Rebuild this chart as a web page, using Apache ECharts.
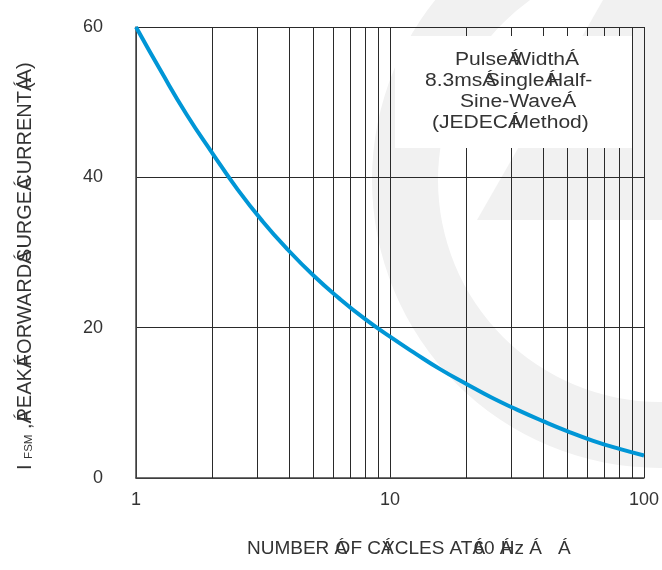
<!DOCTYPE html>
<html><head><meta charset="utf-8">
<script src="https://cdn.jsdelivr.net/npm/echarts@6/dist/echarts.min.js"></script>
<style>html,body{margin:0;padding:0;background:#fff}#c{width:662px;height:570px}</style>
</head><body><div id="c"></div>
<script>
// Data
const cycles  = [1, 1.26, 1.58, 2, 2.51, 3.16, 3.98, 5.01, 6.31, 7.94, 10, 12.6, 15.8, 20, 25.1, 31.6, 39.8, 50.1, 63.1, 79.4, 100];
const current = [60, 54.0, 48.4, 43.2, 38.4, 34.1, 30.3, 26.9, 23.9, 21.2, 18.8, 16.55, 14.45, 12.5, 10.7, 9.1, 7.6, 6.2, 4.95, 3.9, 3.0];
const minorGridCycles = [2, 3, 4, 5, 6, 7, 8, 9, 20, 30, 40, 50, 60, 70, 80, 90];
const xRange = [1, 100];
const yRange = [0, 60];
const yStep = 20;
const xTitle = 'NUMBER {a|Á}OF C{a|Á}YCLES AT{a|Á}60 {a|Á}Hz Á   Á';
const yTitle = 'I {sub|FSM} ,{a|Á}PEAK{a|Á}FORWARD{a|Á}SURGE{a|Á}CURRENT{a|Á}(A)';
const noteLines = ['Pulse{a|Á}Width{a|Á}', '8.3ms{a|Á}Single{a|Á}Half-', 'Sine-Wave{a|Á}', '(JEDEC{a|Á}Method)'];

const FONT = '"Liberation Sans", Arial, Helvetica, sans-serif';
const GRID = '#2a2a2a';
const WM = '#f1f1f1';
const TXT = '#333';

// left edges / vertical centres of the four annotation lines
const noteX = [455, 425, 460, 432];
const noteY = [60, 81, 102, 123];

const noteTexts = noteLines.map((t, i) => ({
  type: 'text', silent: true, z: 11, x: noteX[i], y: noteY[i], scaleX: 1.17,
  style: {text: t, fill: TXT, fontSize: 18, fontFamily: FONT, align: 'left', verticalAlign: 'middle',
    rich: {a: {width: 3, fontSize: 18, fontFamily: FONT, fill: TXT}}}
}));

const chart = echarts.init(document.getElementById('c'), null, {renderer: 'canvas'});
chart.setOption({
  animation: false,
  backgroundColor: '#fff',
  grid: {left: 136, right: 18, top: 27, bottom: 92, containLabel: false},
  xAxis: {
    type: 'log', logBase: 10, min: xRange[0], max: xRange[1],
    axisLine: {show: true, onZero: false, lineStyle: {color: '#444', width: 1.5}},
    axisTick: {show: false},
    axisLabel: {color: TXT, fontSize: 18, fontFamily: FONT, margin: 13},
    splitLine: {show: true, lineStyle: {color: GRID, width: 1}}
  },
  yAxis: {
    type: 'value', min: yRange[0], max: yRange[1], interval: yStep,
    axisLine: {show: true, onZero: false, lineStyle: {color: '#444', width: 1.5}},
    axisTick: {show: false},
    axisLabel: {color: TXT, fontSize: 18, fontFamily: FONT, margin: 33},
    splitLine: {show: true, lineStyle: {color: GRID, width: 1}}
  },
  series: [
    {
      type: 'line', data: [], z: 1, silent: true,
      markLine: {
        silent: true, symbol: ['none', 'none'], label: {show: false},
        lineStyle: {color: GRID, width: 1, type: 'solid'},
        emphasis: {disabled: true},
        data: minorGridCycles.map(v => ({xAxis: v}))
      }
    },
    {
      type: 'line', z: 5, smooth: true, showSymbol: false, silent: true,
      lineStyle: {color: '#0096d6', width: 4},
      data: cycles.map((c, i) => [c, current[i]])
    }
  ],
  graphic: [
    {type: 'ring', silent: true, z: -10, shape: {cx: 660, cy: 180, r: 288, r0: 222}, style: {fill: WM}},
    {type: 'polygon', silent: true, z: -10, shape: {points: [[477, 220], [603, 0], [662, 0], [662, 220]]}, style: {fill: WM}},
    {type: 'rect', silent: true, z: 10, shape: {x: 395, y: 36, width: 237, height: 112}, style: {fill: '#fff'}},
    ...noteTexts,
    {type: 'text', silent: true, z: 11, x: 247, y: 549,
      style: {text: xTitle, fill: TXT, fontSize: 19, fontFamily: FONT, align: 'left', verticalAlign: 'middle',
        rich: {a: {width: 1, fontSize: 19, fontFamily: FONT, fill: TXT}}}},
    {type: 'text', silent: true, z: 11, x: 25, y: 470, rotation: Math.PI / 2,
      style: {text: yTitle, fill: TXT, fontSize: 20, fontFamily: FONT, align: 'left', verticalAlign: 'middle',
        rich: {
          a: {width: 2, fontSize: 20, fontFamily: FONT, fill: TXT},
          sub: {fontSize: 11.5, fontFamily: FONT, fill: TXT, verticalAlign: 'bottom', padding: [8, 0, 0, 0]}
        }}}
  ]
});
</script></body></html>
